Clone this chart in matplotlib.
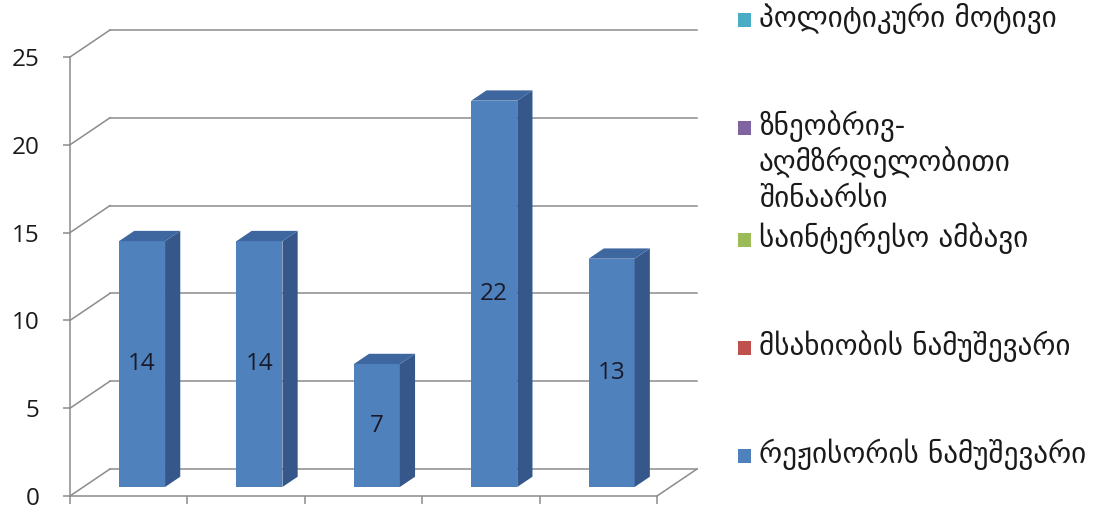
import numpy as np
import matplotlib
matplotlib.use("Agg")
import matplotlib.pyplot as plt
from matplotlib.patches import Polygon, Rectangle

# ===== DATA =====
values = [14, 14, 7, 22, 13]
yticks = [0, 5, 10, 15, 20, 25]
legend_labels = [
    "პოლიტიკური მოტივი",
    "ზნეობრივ-\nაღმზრდელობითი\nშინაარსი",
    "საინტერესო ამბავი",
    "მსახიობის ნამუშევარი",
    "რეჟისორის ნამუშევარი",
]
legend_colors = ["#4BACC6", "#8064A2", "#9BBB59", "#C0504D", "#4F81BD"]

# ===== STYLE =====
FRONT = "#4F81BD"
TOP = "#3E679F"
SIDE = "#35578A"
GRID = "#8C8C8C"
DX, DY = 0.341, 1.54      # depth of the box (data units)
F = 1 / 3                 # bars sit one third into the box
BW = 0.392                # bar width
BD = 0.38                 # bar depth as share of box depth
NUMFONT = ["Open Sans", "DejaVu Sans"]

W, H = 1096, 512
fig = plt.figure(figsize=(W / 100, H / 100), dpi=100)
ax = fig.add_axes([70 / W, (H - 496) / H, (657 - 70) / W, (496 - 57) / H])
ax.set_xlim(0, len(values))
ax.set_ylim(0, yticks[-1])

n = len(values)

# walls: left side wall diagonals + back wall gridlines
for v in yticks:
    ax.plot([0, DX], [v, v + DY], color=GRID, lw=1.1, clip_on=False, zorder=1)
    ax.plot([DX, n + DX], [v + DY, v + DY], color=GRID, lw=1.1, clip_on=False, zorder=1)
ax.plot([n, n + DX], [0, DY], color=GRID, lw=1.1, clip_on=False, zorder=1)

# bars: front faces through ax.bar, then side and top faces
xs = np.arange(n) + 0.5 + F * DX
ax.bar(xs, values, width=BW, bottom=F * DY, color=FRONT, zorder=3, clip_on=False)
ddx, ddy = BD * DX, BD * DY
for x, v in zip(xs, values):
    x0, x1 = x - BW / 2, x + BW / 2
    y0, y1 = F * DY, F * DY + v
    side = Polygon([(x1, y0), (x1 + ddx, y0 + ddy), (x1 + ddx, y1 + ddy), (x1, y1)],
                   closed=True, fc=SIDE, ec="none", zorder=3, clip_on=False)
    top = Polygon([(x0, y1), (x0 + ddx, y1 + ddy), (x1 + ddx, y1 + ddy), (x1, y1)],
                  closed=True, fc=TOP, ec="none", zorder=3, clip_on=False)
    ax.add_patch(side)
    ax.add_patch(top)
    ax.text(x, y0 + v / 2, str(v), ha="center", va="center", fontsize=17.5,
            color="#1A1A2A", family=NUMFONT, zorder=4)

# axes
for s in ["top", "right"]:
    ax.spines[s].set_visible(False)
for s in ["left", "bottom"]:
    ax.spines[s].set_color(GRID)
    ax.spines[s].set_linewidth(1.1)
ax.set_yticks(yticks)
ax.set_yticklabels([str(t) for t in yticks], fontsize=17.5, family=NUMFONT,
                   color="#1A1A1A")
ax.set_xticks(np.arange(n + 1))
ax.set_xticklabels([])
ax.tick_params(axis="y", length=5, width=1.1, color=GRID, pad=17)
ax.tick_params(axis="x", length=6, width=1.1, color=GRID, direction="out")
ax.patch.set_visible(False)

# legend (drawn by hand so the square sits beside the first line)
legend_y = [20, 128, 240, 348, 456]
line_step = 36
for lab, col, yc in zip(legend_labels, legend_colors, legend_y):
    fig.patches.append(Rectangle((738 / W, (H - yc - 7) / H), 13 / W, 14 / H,
                                 transform=fig.transFigure, fc=col, ec="none"))
    for k, line in enumerate(lab.split("\n")):
        fig.text(759 / W, (H - yc - 7 - k * line_step) / H, line, ha="left",
                 va="baseline", fontsize=21, color="#1A1A1A", family=["DejaVu Sans"])

fig.savefig("out.png", dpi=100)
